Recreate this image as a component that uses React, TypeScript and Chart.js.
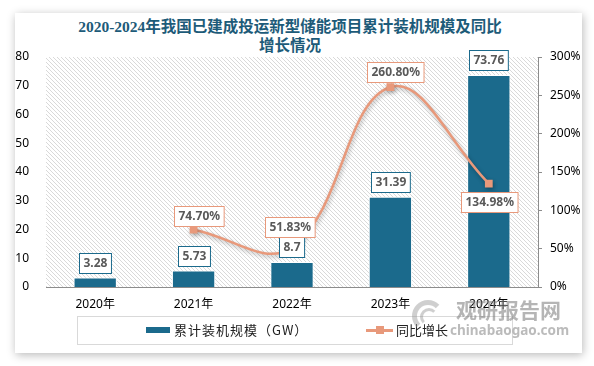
import React, { useEffect, useRef } from "react";
import { Chart, registerables } from "chart.js";

Chart.register(...registerables);

const categories = ["2020年", "2021年", "2022年", "2023年", "2024年"];
const capacityGW = [3.28, 5.73, 8.7, 31.39, 73.76];
const yoyGrowth = [null, 74.7, 51.83, 260.8, 134.98];
const capacityLabels = ["3.28", "5.73", "8.7", "31.39", "73.76"];
const growthLabels = ["", "74.70%", "51.83%", "260.80%", "134.98%"];
const titleLines = ["2020-2024年我国已建成投运新型储能项目累计装机规模及同比", "增长情况"];
const legendBar = "累计装机规模（GW）";
const legendLine = "同比增长";

const BAR_COLOR = "#1b6a8c";
const LINE_COLOR = "#e8997b";
const LABEL_TEXT = "#595959";
const LINE_LABEL_OFFSETS = [null, { dx: 5, dy: -14 }, { dx: -2, dy: -20 }, { dx: 5, dy: -15 }, { dx: 0, dy: 18.5 }];

function makeHatch(ctx: CanvasRenderingContext2D) {
  const c = document.createElement("canvas");
  c.width = 4;
  c.height = 4;
  const g = c.getContext("2d")!;
  g.fillStyle = "#ffffff";
  g.fillRect(0, 0, 4, 4);
  g.strokeStyle = "#cfcfcf";
  g.lineWidth = 0.8;
  g.beginPath();
  g.moveTo(-1, -1);
  g.lineTo(5, 5);
  g.moveTo(-1, 3);
  g.lineTo(1, 5);
  g.moveTo(3, -1);
  g.lineTo(5, 1);
  g.stroke();
  return ctx.createPattern(c, "repeat");
}

function drawBox(ctx: CanvasRenderingContext2D, text: string, cx: number, cy: number, border: string) {
  ctx.font = "bold 12px 'Noto Sans', 'DejaVu Sans', sans-serif";
  const w = ctx.measureText(text).width + 8;
  const h = 20;
  const x = Math.round(cx - w / 2) + 0.5;
  const y = Math.round(cy - h / 2) + 0.5;
  ctx.fillStyle = "#ffffff";
  ctx.fillRect(x, y, w, h);
  ctx.strokeStyle = border;
  ctx.lineWidth = 1;
  ctx.strokeRect(x, y, w, h);
  ctx.fillStyle = LABEL_TEXT;
  ctx.textAlign = "center";
  ctx.textBaseline = "middle";
  ctx.fillText(text, x + w / 2, y + h / 2 + 0.5);
}

const bgPlugin = {
  id: "hatchBg",
  beforeDraw(chart: any) {
    const { ctx, chartArea } = chart;
    ctx.save();
    ctx.fillStyle = makeHatch(ctx);
    ctx.fillRect(chartArea.left, chartArea.top, chartArea.right - chartArea.left, chartArea.bottom - chartArea.top);
    ctx.restore();
  },
};

const shadowPlugin = {
  id: "lineShadow",
  beforeDatasetDraw(chart: any, args: any) {
    if (args.index === 1) {
      const ctx = chart.ctx;
      ctx.save();
      ctx.shadowColor = "rgba(0,0,0,0.3)";
      ctx.shadowBlur = 4;
      ctx.shadowOffsetX = 1;
      ctx.shadowOffsetY = 2;
    }
  },
  afterDatasetDraw(chart: any, args: any) {
    if (args.index === 1) chart.ctx.restore();
  },
};

const labelPlugin = {
  id: "boxLabels",
  afterDatasetsDraw(chart: any) {
    const ctx = chart.ctx;
    ctx.save();
    const barMeta = chart.getDatasetMeta(0);
    barMeta.data.forEach((el: any, i: number) => {
      drawBox(ctx, capacityLabels[i], el.x, el.y - 14.5, BAR_COLOR);
    });
    const lineMeta = chart.getDatasetMeta(1);
    lineMeta.data.forEach((el: any, i: number) => {
      const off = LINE_LABEL_OFFSETS[i];
      if (!off || yoyGrowth[i] == null) return;
      drawBox(ctx, growthLabels[i], el.x + off.dx, el.y + off.dy, LINE_COLOR);
    });
    ctx.restore();
  },
};

export default function App() {
  const ref = useRef<HTMLCanvasElement>(null);
  useEffect(() => {
    document.body.style.margin = "0";
    const chart = new Chart(ref.current!, {
      type: "bar",
      data: {
        labels: categories,
        datasets: [
          {
            type: "bar",
            label: legendBar,
            data: capacityGW,
            backgroundColor: BAR_COLOR,
            borderColor: "#ffffff",
            borderWidth: 1,
            categoryPercentage: 1,
            barPercentage: 0.44,
            yAxisID: "y",
            order: 2,
          },
          {
            type: "line",
            label: legendLine,
            data: yoyGrowth as any,
            borderColor: LINE_COLOR,
            backgroundColor: LINE_COLOR,
            borderWidth: 2.5,
            tension: 0.4,
            pointStyle: "rect",
            pointRadius: 5.5,
            pointBorderWidth: 0,
            yAxisID: "y1",
            order: 1,
          } as any,
        ],
      },
      options: {
        animation: false,
        responsive: false,
        devicePixelRatio: 1,
        layout: { padding: { top: 57, left: 15, right: 12, bottom: 49 } },
        plugins: { legend: { display: false }, title: { display: false }, tooltip: { enabled: false } },
        scales: {
          x: {
            offset: true,
            grid: { display: false, drawTicks: false },
            border: { display: true, color: "#8c8c8c", width: 1 },
            ticks: { color: "#000", padding: 10, font: { size: 12, family: "'Noto Sans', 'Noto Sans CJK SC', sans-serif" } },
            afterFit(s: any) { s.height = 30; },
          },
          y: {
            position: "left",
            min: 0,
            max: 80,
            grid: { display: false, drawTicks: false },
            border: { display: false },
            ticks: { stepSize: 10, color: "#000", padding: 17, font: { size: 12, family: "'Noto Sans', sans-serif" } },
            afterFit(s: any) { s.width = 31; },
          },
          y1: {
            position: "right",
            min: 0,
            max: 300,
            grid: { display: true, drawOnChartArea: false, drawTicks: true, tickLength: 4, color: "#8c8c8c" },
            border: { display: true, color: "#8c8c8c", width: 1 },
            ticks: { stepSize: 50, color: "#000", padding: 8, font: { size: 12, family: "'Noto Sans', sans-serif" }, callback: (v: any) => v + "%" },
            afterFit(s: any) { s.width = 44; },
          },
        },
      },
      plugins: [bgPlugin, shadowPlugin, labelPlugin],
    });
    return () => chart.destroy();
  }, []);

  return (
    <div style={{ position: "relative", width: 594, height: 366, background: "#ffffff", overflow: "hidden" }}>
      <div style={{ position: "absolute", left: 15, top: 13, width: 567, height: 340, background: "#fff", boxShadow: "1px 2px 9px rgba(0,0,0,0.28)" }} />
      <div style={{ position: "absolute", left: 0, top: 17, width: 580, textAlign: "center", color: "#1d5b79", fontWeight: "bold", fontSize: 15.5, lineHeight: "19px", fontFamily: "'Liberation Serif', 'Noto Sans CJK SC', serif" }}>
        {titleLines.map((t, i) => (<div key={i}>{t}</div>))}
      </div>
      <canvas ref={ref} width={594} height={366} style={{ position: "absolute", left: 0, top: 0, width: 594, height: 366 }} />
      <div style={{ position: "absolute", left: 77, top: 316, width: 434, height: 27, border: "1px solid #d9d9d9", boxSizing: "content-box" }} />
      <div style={{ position: "absolute", left: 146, top: 327, width: 24, height: 6, background: BAR_COLOR }} />
      <div style={{ position: "absolute", left: 174, top: 321, fontSize: 13, lineHeight: "18px", letterSpacing: 1, color: "#222", fontFamily: "'Noto Sans CJK SC', sans-serif" }}>{legendBar}</div>
      <div style={{ position: "absolute", left: 366, top: 329, width: 27, height: 2.5, background: LINE_COLOR }} />
      <div style={{ position: "absolute", left: 376, top: 326, width: 8, height: 8, background: LINE_COLOR }} />
      <div style={{ position: "absolute", left: 396, top: 321, fontSize: 13, lineHeight: "18px", color: "#222", fontFamily: "'Noto Sans CJK SC', sans-serif" }}>{legendLine}</div>
      <div style={{ position: "absolute", left: 412, top: 300, width: 32, height: 32, borderRadius: "50%", border: "5px solid rgba(150,150,150,0.45)", borderRightColor: "transparent", borderBottomColor: "transparent", boxSizing: "border-box" }} />
      <div style={{ position: "absolute", left: 420, top: 308, width: 18, height: 18, borderRadius: "50%", border: "3px solid rgba(150,150,150,0.45)", borderRightColor: "transparent", borderBottomColor: "transparent", boxSizing: "border-box" }} />
      <div style={{ position: "absolute", left: 456, top: 296, fontSize: 21, lineHeight: "26px", fontWeight: "bold", color: "rgba(120,120,120,0.55)", fontFamily: "'Noto Sans CJK SC', sans-serif" }}>观研报告网</div>
      <div style={{ position: "absolute", left: 450, top: 322, fontSize: 13.5, lineHeight: "16px", fontWeight: "bold", color: "rgba(120,120,120,0.5)", fontFamily: "'Noto Sans', sans-serif" }}>chinabaogao.com</div>
    </div>
  );
}
